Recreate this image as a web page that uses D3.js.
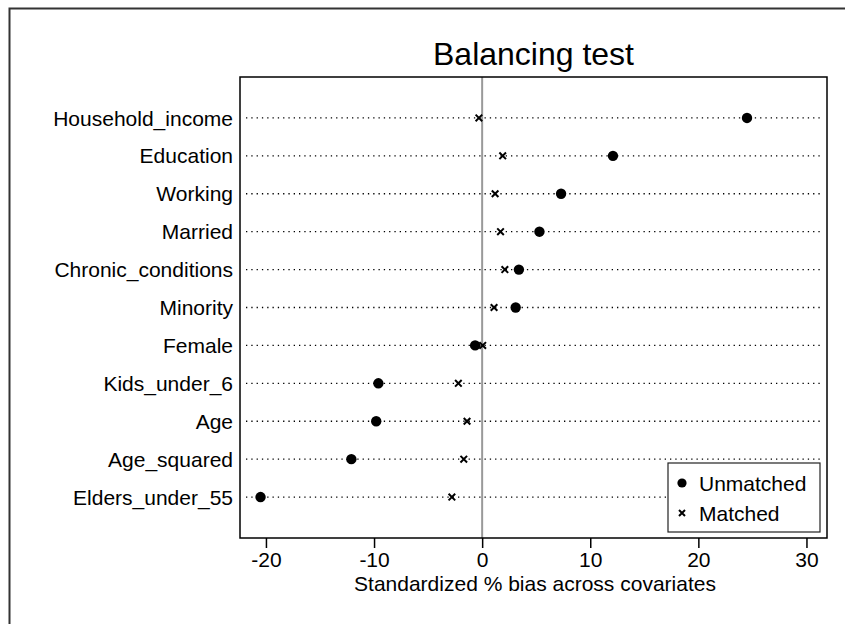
<!DOCTYPE html>
<html>
<head>
<meta charset="utf-8">
<script src="https://cdnjs.cloudflare.com/ajax/libs/d3/7.8.5/d3.min.js"></script>
<style>
body { margin: 0; background: #fff; }
</style>
</head>
<body>
<div id="chart"></div>
<script>
var covariates = ["Household_income", "Education", "Working", "Married", "Chronic_conditions",
                  "Minority", "Female", "Kids_under_6", "Age", "Age_squared", "Elders_under_55"];
var unmatched = [24.5, 12.1, 7.3, 5.3, 3.4, 3.1, -0.65, -9.6, -9.8, -12.1, -20.5];
var matched = [-0.3, 1.9, 1.2, 1.7, 2.1, 1.1, 0.05, -2.2, -1.4, -1.7, -2.8];
var xTicks = [-20, -10, 0, 10, 20, 30];
var legendLabels = ["Unmatched", "Matched"];

var width = 845, height = 624;
var plotLeft = 240, plotRight = 827, plotTop = 77, plotBottom = 538;
var font = "Arial, 'Liberation Sans', sans-serif";

var rows = covariates.map(function(c, i){
	return {name: c, unmatched: unmatched[i], matched: matched[i]};
});

var svg = d3.select("#chart")
            .append("svg")
            .attr("width", width)
            .attr("height", height);

// outer frame, runs off the picture on right and bottom
svg.append("rect")
   .attr("x", 9.5)
   .attr("y", 8.5)
   .attr("width", 900)
   .attr("height", 700)
   .style("fill", "white")
   .style("stroke", "#333")
   .style("stroke-width", 2);

var x = d3.scaleLinear()
          .domain([-22.4, 31.9])
          .range([plotLeft, plotRight]);

var y = d3.scalePoint()
          .domain(covariates)
          .range([plotTop, plotBottom])
          .padding(1.08);

svg.append("text")
   .attr("x", (plotLeft + plotRight) / 2)
   .attr("y", 65)
   .style("text-anchor", "middle")
   .style("font-family", font)
   .style("font-size", "32px")
   .text("Balancing test");

// dotted guide lines
svg.append("g").selectAll("line")
   .data(covariates)
   .enter()
   .append("line")
   .attr("x1", plotLeft + 6)
   .attr("x2", plotRight - 5)
   .attr("y1", function(d){return y(d);})
   .attr("y2", function(d){return y(d);})
   .style("stroke", "black")
   .style("stroke-width", 1.3)
   .style("stroke-dasharray", "1.3,4");

// zero reference line
svg.append("line")
   .attr("x1", x(0))
   .attr("x2", x(0))
   .attr("y1", plotTop)
   .attr("y2", plotBottom)
   .style("stroke", "#999")
   .style("stroke-width", 2);

// category labels
svg.append("g").selectAll("text")
   .data(covariates)
   .enter()
   .append("text")
   .attr("x", plotLeft - 7)
   .attr("y", function(d){return y(d);})
   .attr("dy", "0.36em")
   .style("text-anchor", "end")
   .style("font-family", font)
   .style("font-size", "21px")
   .text(function(d){return d;});

function drawCross(g, cx, cy, s){
	g.append("path")
	 .attr("d", "M" + (cx - s) + "," + (cy - s) + "L" + (cx + s) + "," + (cy + s) +
	            "M" + (cx - s) + "," + (cy + s) + "L" + (cx + s) + "," + (cy - s))
	 .style("stroke", "black")
	 .style("stroke-width", 2)
	 .style("fill", "none");
}

var marks = svg.append("g");
rows.forEach(function(d){
	drawCross(marks, x(d.matched), y(d.name), 3.3);
});
marks.selectAll("circle")
     .data(rows)
     .enter()
     .append("circle")
     .attr("cx", function(d){return x(d.unmatched);})
     .attr("cy", function(d){return y(d.name);})
     .attr("r", 5.2)
     .style("fill", "black");

// plot box
svg.append("rect")
   .attr("x", plotLeft)
   .attr("y", plotTop)
   .attr("width", plotRight - plotLeft)
   .attr("height", plotBottom - plotTop)
   .style("fill", "none")
   .style("stroke", "black")
   .style("stroke-width", 1.5);

var xAxis = d3.axisBottom(x)
              .tickValues(xTicks)
              .tickSize(10)
              .tickPadding(4)
              .tickFormat(d3.format("d"));

var ax = svg.append("g")
            .attr("transform", "translate(0," + plotBottom + ")")
            .call(xAxis);
ax.select(".domain").remove();
ax.selectAll(".tick line").style("stroke-width", 1.5);
ax.selectAll(".tick text")
  .style("font-family", font)
  .style("font-size", "21px")
  .text(function(d){return d < 0 ? "-" + Math.abs(d) : d;});

svg.append("text")
   .attr("x", 535)
   .attr("y", 591)
   .style("text-anchor", "middle")
   .style("font-family", font)
   .style("font-size", "21px")
   .text("Standardized % bias across covariates");

// legend
var lg = svg.append("g");
lg.append("rect")
  .attr("x", 668)
  .attr("y", 463)
  .attr("width", 152)
  .attr("height", 69)
  .style("fill", "white")
  .style("stroke", "#222")
  .style("stroke-width", 1.2);
lg.append("circle")
  .attr("cx", 682)
  .attr("cy", 483)
  .attr("r", 4.6)
  .style("fill", "black");
drawCross(lg, 682, 513, 3);
lg.selectAll("text")
  .data(legendLabels)
  .enter()
  .append("text")
  .attr("x", 699)
  .attr("y", function(d, i){return 483 + i * 30;})
  .attr("dy", "0.36em")
  .style("font-family", font)
  .style("font-size", "21px")
  .text(function(d){return d;});
</script>
</body>
</html>
